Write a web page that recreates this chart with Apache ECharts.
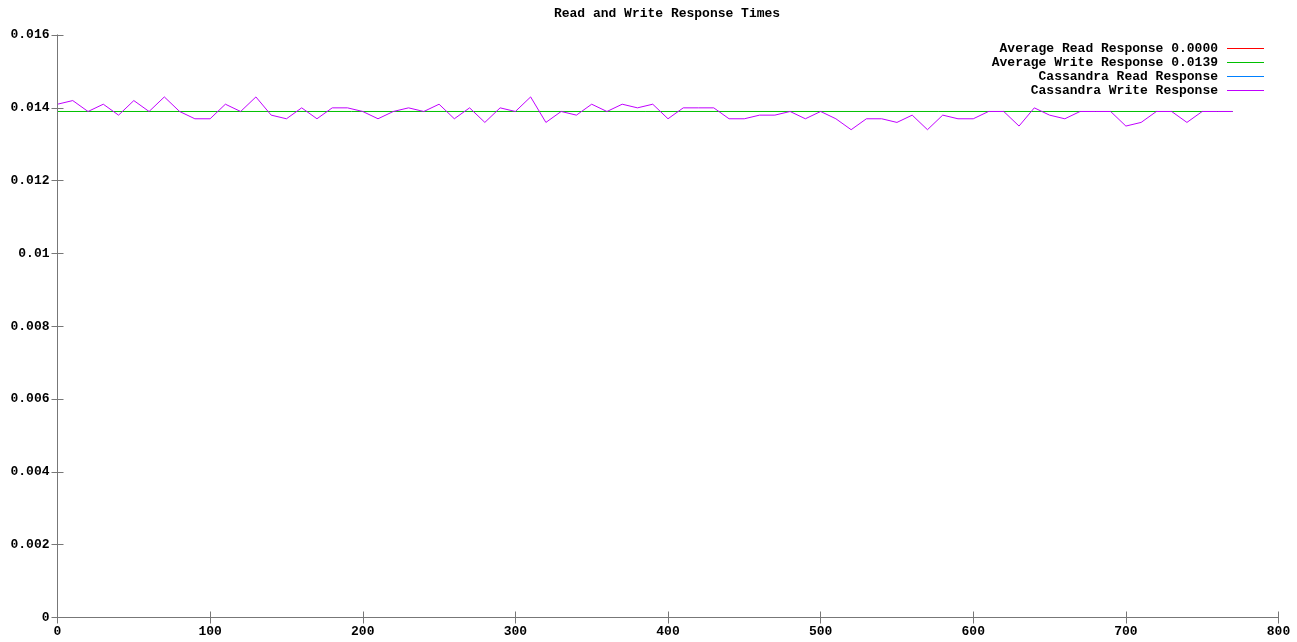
<!DOCTYPE html>
<html>
<head>
<meta charset="utf-8">
<script src="https://cdn.jsdelivr.net/npm/echarts@6/dist/echarts.min.js"></script>
<style>
html,body{margin:0;padding:0;background:#fff;}
#chart{width:1297px;height:642px;}
</style>
</head>
<body>
<div id="chart"></div>
<script>
// ---- data ----
const chartTitle = 'Read and Write Response Times';
const seriesNames = [
  'Average Read Response 0.0000',
  'Average Write Response 0.0139',
  'Cassandra Read Response',
  'Cassandra Write Response'
];
const seriesColors = ['#ff0000', '#00c000', '#0080ff', '#c000ff'];

const sampleTimes = [0,10,20,30,40,50,60,70,80,90,100,110,120,130,140,150,160,170,180,190,
  200,210,220,230,240,250,260,270,280,290,300,310,320,330,340,350,360,370,380,390,
  400,410,420,430,440,450,460,470,480,490,500,510,520,530,540,550,560,570,580,590,
  600,610,620,630,640,650,660,670,680,690,700,710,720,730,740,750,760,770];

const writeResponse = [0.0141,0.0142,0.0139,0.0141,0.0138,0.0142,0.0139,0.0143,0.0139,0.0137,
  0.0137,0.0141,0.0139,0.0143,0.0138,0.0137,0.0140,0.0137,0.0140,0.0140,
  0.0139,0.0137,0.0139,0.0140,0.0139,0.0141,0.0137,0.0140,0.0136,0.0140,
  0.0139,0.0143,0.0136,0.0139,0.0138,0.0141,0.0139,0.0141,0.0140,0.0141,
  0.0137,0.0140,0.0140,0.0140,0.0137,0.0137,0.0138,0.0138,0.0139,0.0137,
  0.0139,0.0137,0.0134,0.0137,0.0137,0.0136,0.0138,0.0134,0.0138,0.0137,
  0.0137,0.0139,0.0139,0.0135,0.0140,0.0138,0.0137,0.0139,0.0139,0.0139,
  0.0135,0.0136,0.0139,0.0139,0.0136,0.0139,0.0139,0.0139];

const readResponse = [0,0,0,0,0,0,0,0,0,0,0,0,0,0,0,0,0,0,0,0,
  0,0,0,0,0,0,0,0,0,0,0,0,0,0,0,0,0,0,0,0,
  0,0,0,0,0,0,0,0,0,0,0,0,0,0,0,0,0,0,0,0,
  0,0,0,0,0,0,0,0,0,0,0,0,0,0,0,0,0,0];

const avgReadResponse = 0.0000;
const avgWriteResponse = 0.0139;
const avgSpan = [0, 770];

const xTicks = { min: 0, max: 800, interval: 100 };
const yTicks = { min: 0, max: 0.016, interval: 0.002 };

// ---- chart ----
const FONT = 'Liberation Mono';
const AXIS_COLOR = '#777777';
const chart = echarts.init(document.getElementById('chart'), null, { renderer: 'canvas' });

const pairs = (xs, ys) => xs.map((x, i) => [x, ys[i]]);

const legendTops = [42, 56, 70, 84];
const legends = seriesNames.map((n, i) => ({
  data: [{ name: n, icon: 'path://M0,0 L37,0 L37,1 L0,1 Z' }],
  right: 33,
  top: legendTops[i],
  padding: 0,
  align: 'right',
  itemWidth: 37,
  itemHeight: 14,
  selectedMode: false,
  textStyle: { fontFamily: FONT, fontWeight: 'bold', fontSize: 13, color: '#000', padding: [0, 4, 0, 0] }
}));

const baseAxis = {
  type: 'value',
  axisLine: { show: true, lineStyle: { color: AXIS_COLOR, width: 1 } },
  axisTick: { show: true, inside: true, length: 6, lineStyle: { color: AXIS_COLOR } },
  splitLine: { show: false },
  z: 5
};

const option = {
  animation: false,
  backgroundColor: '#ffffff',
  title: {
    text: chartTitle,
    left: 667,
    top: 7,
    textAlign: 'center',
    padding: 0,
    textStyle: { fontFamily: FONT, fontWeight: 'bold', fontSize: 13, color: '#000' }
  },
  legend: legends,
  grid: { left: 57.5, right: 18.5, top: 35.05, bottom: 24.5, containLabel: false },
  xAxis: [
    Object.assign({}, baseAxis, {
      position: 'bottom', min: xTicks.min, max: xTicks.max, interval: xTicks.interval,
      axisLabel: { show: true, margin: 8, color: '#000', fontFamily: FONT, fontWeight: 'bold', fontSize: 13 }
    }),
    Object.assign({}, baseAxis, {
      position: 'top', min: xTicks.min, max: xTicks.max, interval: xTicks.interval,
      axisLabel: { show: false }
    })
  ],
  yAxis: [
    Object.assign({}, baseAxis, {
      position: 'left', min: yTicks.min, max: yTicks.max, interval: yTicks.interval,
      axisLabel: {
        show: true, margin: 8, color: '#000', fontFamily: FONT, fontWeight: 'bold', fontSize: 13,
        formatter: v => String(+v.toFixed(3))
      }
    }),
    Object.assign({}, baseAxis, {
      position: 'right', min: yTicks.min, max: yTicks.max, interval: yTicks.interval,
      axisLabel: { show: false }
    })
  ],
  series: [
    {
      name: seriesNames[0], type: 'line', symbol: 'none', showSymbol: false, z: 1,
      itemStyle: { color: seriesColors[0] }, lineStyle: { width: 1, color: seriesColors[0] },
      data: pairs(avgSpan, [avgReadResponse, avgReadResponse])
    },
    {
      name: seriesNames[1], type: 'line', symbol: 'none', showSymbol: false, z: 2,
      itemStyle: { color: seriesColors[1] }, lineStyle: { width: 1, color: seriesColors[1] },
      data: pairs(avgSpan, [avgWriteResponse, avgWriteResponse])
    },
    {
      name: seriesNames[2], type: 'line', symbol: 'none', showSymbol: false, z: 1,
      itemStyle: { color: seriesColors[2] }, lineStyle: { width: 1, color: seriesColors[2] },
      data: pairs(sampleTimes, readResponse)
    },
    {
      name: seriesNames[3], type: 'line', symbol: 'none', showSymbol: false, z: 3,
      itemStyle: { color: seriesColors[3] }, lineStyle: { width: 1, color: seriesColors[3] },
      data: pairs(sampleTimes, writeResponse)
    }
  ]
};

chart.setOption(option);
</script>
</body>
</html>
